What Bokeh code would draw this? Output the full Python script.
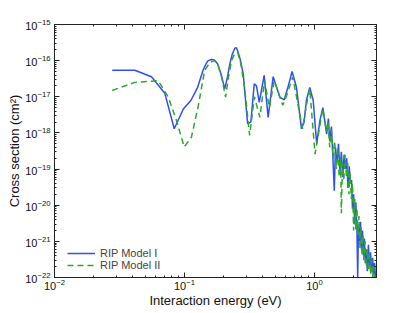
from bokeh.plotting import figure
from bokeh.models import LogAxis, FixedTicker, Legend, LegendItem
from bokeh.embed import file_html
from bokeh.resources import INLINE

# RIP Model I (blue, solid)
energy_m1 = [0.0278, 0.0415, 0.0557, 0.0705, 0.0834, 0.098, 0.112, 0.126, 0.139, 0.146,
             0.152, 0.161, 0.17, 0.18, 0.192, 0.204, 0.214, 0.223, 0.233, 0.244, 0.25,
             0.256, 0.268, 0.283, 0.306, 0.324, 0.344, 0.358, 0.376, 0.41, 0.44, 0.481,
             0.541, 0.585, 0.62, 0.673, 0.727, 0.794, 0.832, 0.867, 0.92, 0.977, 1.04,
             1.1, 1.16, 1.24, 1.28, 1.31, 1.35, 1.38, 1.42, 1.45, 1.49, 1.53, 1.57, 1.61,
             1.65, 1.69, 1.73, 1.77, 1.81, 1.85, 1.89, 1.93, 1.96, 2.0, 2.04, 2.08, 2.12,
             2.15, 2.18, 2.22, 2.26, 2.3, 2.34, 2.38, 2.42, 2.46, 2.5, 2.55, 2.6, 2.65,
             2.7, 2.75, 2.8, 2.85, 2.9, 2.95]
xsec_m1 = [5.4e-17, 5.4e-17, 3.6e-17, 1.26e-17, 1.3e-18, 4.6e-18, 7.9e-18, 1.8e-17, 5.4e-17, 8.0e-17,
           1.0e-16, 1.07e-16, 1.05e-16, 8.1e-17, 4.0e-17, 1.66e-17, 3.5e-17, 8.0e-17, 1.5e-16, 2.2e-16, 2.3e-16,
           1.9e-16, 1.1e-16, 4.3e-17, 1.8e-18, 2.0e-18, 2.3e-17, 2.0e-17, 7.0e-18, 3.9e-17, 2.7e-18, 3.6e-17,
           9.8e-18, 8.2e-18, 1.66e-17, 5.0e-17, 1.8e-17, 1.3e-18, 2.0e-18, 8.0e-18, 1.8e-17, 8.0e-18, 5.0e-19,
           2.2e-18, 5.0e-18, 9.3e-19, 2.5e-18, 6.0e-19, 1.5e-18, 3.0e-19, 2.5e-20, 4.0e-19, 1.5e-19, 5.0e-19, 8.0e-20, 3.0e-19,
           6.0e-20, 2.5e-19, 1.0e-19, 2.0e-19, 3.0e-20, 1.2e-19, 4.0e-20, 5.0e-20, 8.0e-21, 2.0e-20, 3.0e-21, 1.2e-20, 2.5e-21,
           1.0e-22, 3.0e-21, 1.0e-21, 3.5e-21, 6.0e-22, 2.0e-21, 4.0e-22, 1.2e-21, 2.5e-22, 6.0e-22, 1.5e-22, 8.0e-22, 2.0e-22,
           5.0e-22, 1.5e-22, 3.5e-22, 1.2e-22, 2.5e-22, 1.0e-22]

# RIP Model II (green, dashed)
energy_m2 = [0.0278, 0.0415, 0.0628, 0.075, 0.0868, 0.0995, 0.113, 0.127, 0.143, 0.157,
             0.17, 0.18, 0.193, 0.207, 0.218, 0.23, 0.244, 0.256, 0.27, 0.29, 0.317,
             0.345, 0.38, 0.413, 0.45, 0.49, 0.57, 0.61, 0.68, 0.77, 0.81, 0.88, 0.92,
             1.01, 1.1, 1.16, 1.24, 1.27, 1.31, 1.35, 1.39, 1.43, 1.47, 1.51, 1.55, 1.59,
             1.61, 1.64, 1.68, 1.72, 1.76, 1.8, 1.84, 1.88, 1.92, 1.96, 2.0, 2.04, 2.08,
             2.12, 2.16, 2.2, 2.24, 2.28, 2.32, 2.36, 2.4, 2.45, 2.5, 2.55, 2.6, 2.65,
             2.7, 2.75, 2.8, 2.85, 2.9]
xsec_m2 = [1.5e-17, 2.5e-17, 2.8e-17, 9.8e-18, 2.2e-18, 4.1e-19, 7.6e-19, 5.1e-18, 5.4e-17, 9.0e-17,
           1.0e-16, 8.0e-17, 3.5e-17, 9.8e-18, 3.5e-17, 1.0e-16, 1.6e-16, 1.7e-16, 9.0e-17, 1.8e-17, 8.5e-19,
           1.0e-17, 2.7e-18, 2.8e-17, 5.0e-18, 2.8e-17, 5.8e-18, 1.07e-17, 3.5e-17, 3.4e-18, 1.3e-18, 8.0e-18, 1.66e-17,
           2.6e-19, 1.6e-18, 4.6e-18, 1.1e-18, 2.0e-18, 4.0e-19, 1.2e-18, 2.0e-19, 6.0e-19, 1.0e-19, 4.0e-19, 6.0e-20, 2.0e-19,
           6.0e-21, 1.5e-19, 5.0e-20, 2.5e-19, 6.0e-20, 1.5e-19, 2.0e-20, 8.0e-20, 1.5e-20, 4.0e-20, 2.0e-21, 1.5e-20, 2.0e-21,
           8.0e-21, 1.5e-21, 5.0e-21, 6.0e-22, 2.5e-21, 4.0e-22, 1.5e-21, 3.0e-22, 1.0e-21, 2.0e-22, 6.0e-22, 1.5e-22, 5.0e-22,
           1.2e-22, 3.0e-22, 1.0e-22, 2.0e-22, 1.0e-22]

x_major = [0.01, 0.1, 1.0]
x_minor = [0.02, 0.03, 0.04, 0.05, 0.06, 0.07, 0.08, 0.09,
           0.2, 0.3, 0.4, 0.5, 0.6, 0.7, 0.8, 0.9, 2.0, 3.0]
y_major = [1e-22, 1e-21, 1e-20, 1e-19, 1e-18, 1e-17, 1e-16, 1e-15]
y_minor = [k * d for d in y_major[:-1] for k in range(2, 10)]

FONT = "Liberation Sans"

p = figure(width=407, height=312, x_axis_type="log", y_axis_type="log",
           x_range=(0.01, 3.0), y_range=(1e-22, 1e-15),
           output_backend="svg", toolbar_location=None,
           min_border_left=54, min_border_right=31, min_border_top=24, min_border_bottom=35)
p.xgrid.visible = False
p.ygrid.visible = False
p.outline_line_color = "#222222"
p.background_fill_color = "white"
p.border_fill_color = "white"

def style(ax, ticker):
    ax.ticker = ticker
    ax.major_tick_in = 5
    ax.major_tick_out = 0
    ax.minor_tick_in = 2
    ax.minor_tick_out = 0
    ax.axis_line_color = "#222222"
    ax.major_tick_line_color = "#222222"
    ax.minor_tick_line_color = "#222222"
    ax.major_label_text_font = FONT
    ax.major_label_text_font_size = "11px"
    ax.major_label_text_color = "#111111"
    ax.axis_label_text_font = FONT
    ax.axis_label_text_font_size = "13px"
    ax.axis_label_text_font_style = "normal"
    ax.axis_label_text_color = "#111111"

style(p.xaxis[0], FixedTicker(ticks=x_major, minor_ticks=x_minor))
style(p.yaxis[0], FixedTicker(ticks=y_major, minor_ticks=y_minor))
p.xaxis[0].axis_label = "Interaction energy (eV)"
p.yaxis[0].axis_label = "Cross section (cm²)"
p.xaxis[0].major_label_standoff = 1
p.xaxis[0].axis_label_standoff = 0
p.yaxis[0].major_label_standoff = 4
p.yaxis[0].axis_label_standoff = 0

top = LogAxis()
style(top, FixedTicker(ticks=x_major, minor_ticks=x_minor))
top.major_label_text_font_size = "2px"
top.major_label_text_color = None
top.major_label_standoff = 0
p.add_layout(top, "above")
right = LogAxis()
style(right, FixedTicker(ticks=y_major, minor_ticks=y_minor))
right.major_label_text_font_size = "2px"
right.major_label_text_color = None
right.major_label_standoff = 0
p.add_layout(right, "right")

r1 = p.line(energy_m1, xsec_m1, line_color="#2f4ff5", line_width=1.5)
r2 = p.line(energy_m2, xsec_m2, line_color="#2ea82a", line_width=1.5, line_dash="6 4")

legend = Legend(items=[LegendItem(label="RIP Model I", renderers=[r1]),
                       LegendItem(label="RIP Model II", renderers=[r2])],
                location=(13, 6), padding=0, margin=0, spacing=0,
                glyph_width=28, glyph_height=12, label_height=12, label_standoff=5,
                label_text_font=FONT, label_text_font_size="11px",
                border_line_color=None, background_fill_alpha=0)
p.add_layout(legend, "center")

open("out.html", "w").write(file_html(p, INLINE))
